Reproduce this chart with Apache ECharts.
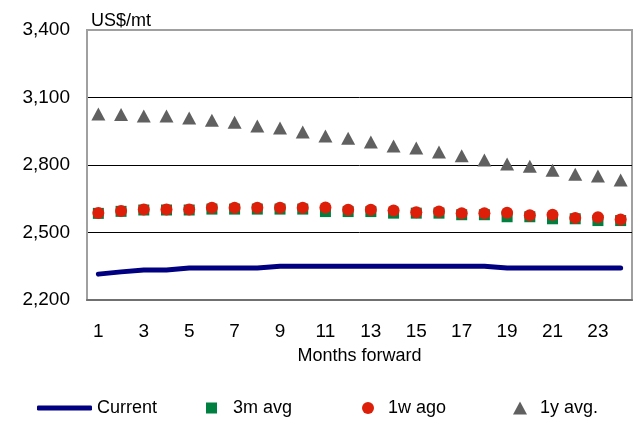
<!DOCTYPE html>
<html>
<head>
<meta charset="utf-8">
<script src="https://cdn.jsdelivr.net/npm/echarts@6/dist/echarts.min.js"></script>
<style>
  html, body { margin: 0; padding: 0; background: #fff; }
  #chart { width: 643px; height: 426px; }
</style>
</head>
<body>
<div id="chart"></div>
<script>
// Forward curve, US$/mt, by months forward
const months = ['1','2','3','4','5','6','7','8','9','10','11','12',
                '13','14','15','16','17','18','19','20','21','22','23','24'];
const current = [2315, 2325, 2333, 2333, 2342, 2342, 2342, 2342, 2350, 2350, 2350, 2350,
                 2350, 2350, 2350, 2350, 2350, 2350, 2342, 2342, 2342, 2342, 2342, 2342];
const avg3m = [2585, 2594, 2600, 2600, 2600, 2604, 2604, 2604, 2604, 2604, 2593, 2593,
               2593, 2586, 2586, 2586, 2579, 2579, 2570, 2570, 2561, 2561, 2553, 2553];
const weekAgo = [2587, 2596, 2602, 2602, 2602, 2610, 2610, 2610, 2610, 2610, 2611, 2601,
                 2601, 2598, 2590, 2593, 2586, 2586, 2588, 2577, 2579, 2565, 2568, 2558];
const avg1y = [3027, 3025, 3018, 3018, 3009, 2999, 2990, 2973, 2965, 2947, 2929, 2919,
               2902, 2884, 2876, 2858, 2841, 2822, 2804, 2794, 2777, 2759, 2751, 2733];
const yTicks = { min: 2200, max: 3400, step: 300 };

const FONT = 'Liberation Sans, Arial, sans-serif';
const NAVY = '#000080', GREEN = '#008040', RED = '#dd1f0a', GREY = '#606060';

const chart = echarts.init(document.getElementById('chart'), null, { renderer: 'canvas' });

const legendText = { fontFamily: FONT, fontSize: 18, color: '#000' };

chart.setOption({
  animation: false,
  backgroundColor: '#fff',
  title: {
    text: 'US$/mt', left: 86, top: 7,
    textStyle: { fontFamily: FONT, fontSize: 18, fontWeight: 'normal', color: '#000' }
  },
  grid: {
    left: 87, right: 11, top: 30, bottom: 126,
    show: true, borderColor: '#a0a0a0', borderWidth: 2, backgroundColor: 'transparent'
  },
  legend: [
    { data: ['Current'], left: 37, top: 399, padding: 0, itemWidth: 55, itemHeight: 5,
      icon: 'roundRect', textStyle: legendText },
    { data: ['3m avg'], left: 206, top: 399, padding: 0, itemWidth: 11, itemHeight: 11,
      icon: 'rect', textStyle: Object.assign({ padding: [0, 0, 0, 11] }, legendText) },
    { data: ['1w ago'], left: 362, top: 399, padding: 0, itemWidth: 12, itemHeight: 12,
      icon: 'circle', textStyle: Object.assign({ padding: [0, 0, 0, 9] }, legendText) },
    { data: ['1y avg.'], left: 513, top: 399, padding: 0, itemWidth: 14, itemHeight: 13,
      icon: 'triangle', textStyle: Object.assign({ padding: [0, 0, 0, 8] }, legendText) }
  ],
  xAxis: {
    type: 'category',
    data: months,
    boundaryGap: true,
    name: 'Months forward',
    nameLocation: 'middle',
    nameGap: 47,
    nameTextStyle: { fontFamily: FONT, fontSize: 18, color: '#000' },
    axisLine: { lineStyle: { color: '#707070', width: 2 } },
    axisTick: { show: false },
    axisLabel: { interval: 1, margin: 22, fontFamily: FONT, fontSize: 19, color: '#000' },
    splitLine: { show: false }
  },
  yAxis: {
    type: 'value',
    min: yTicks.min, max: yTicks.max, interval: yTicks.step,
    axisLine: { show: true, lineStyle: { color: '#a0a0a0', width: 2 } },
    axisTick: { show: false },
    axisLabel: {
      margin: 17, fontFamily: FONT, fontSize: 19, color: '#000',
      formatter: v => v.toLocaleString('en-US')
    },
    splitLine: { show: true, showMinLine: false, showMaxLine: false,
                 lineStyle: { color: '#000', width: 1 } }
  },
  series: [
    {
      name: 'Current', type: 'line', data: current,
      showSymbol: false, symbol: 'none',
      lineStyle: { color: NAVY, width: 5, cap: 'round', join: 'round' },
      itemStyle: { color: NAVY }, z: 3
    },
    {
      name: '3m avg', type: 'scatter', data: avg3m,
      symbol: 'rect', symbolSize: 11,
      itemStyle: { color: GREEN, opacity: 1 }, z: 4
    },
    {
      name: '1w ago', type: 'scatter', data: weekAgo,
      symbol: 'circle', symbolSize: 12,
      itemStyle: { color: RED, opacity: 1 }, z: 5
    },
    {
      name: '1y avg.', type: 'scatter', data: avg1y,
      symbol: 'triangle', symbolSize: [14, 13],
      itemStyle: { color: GREY, opacity: 1 }, z: 4
    }
  ]
});
</script>
</body>
</html>
